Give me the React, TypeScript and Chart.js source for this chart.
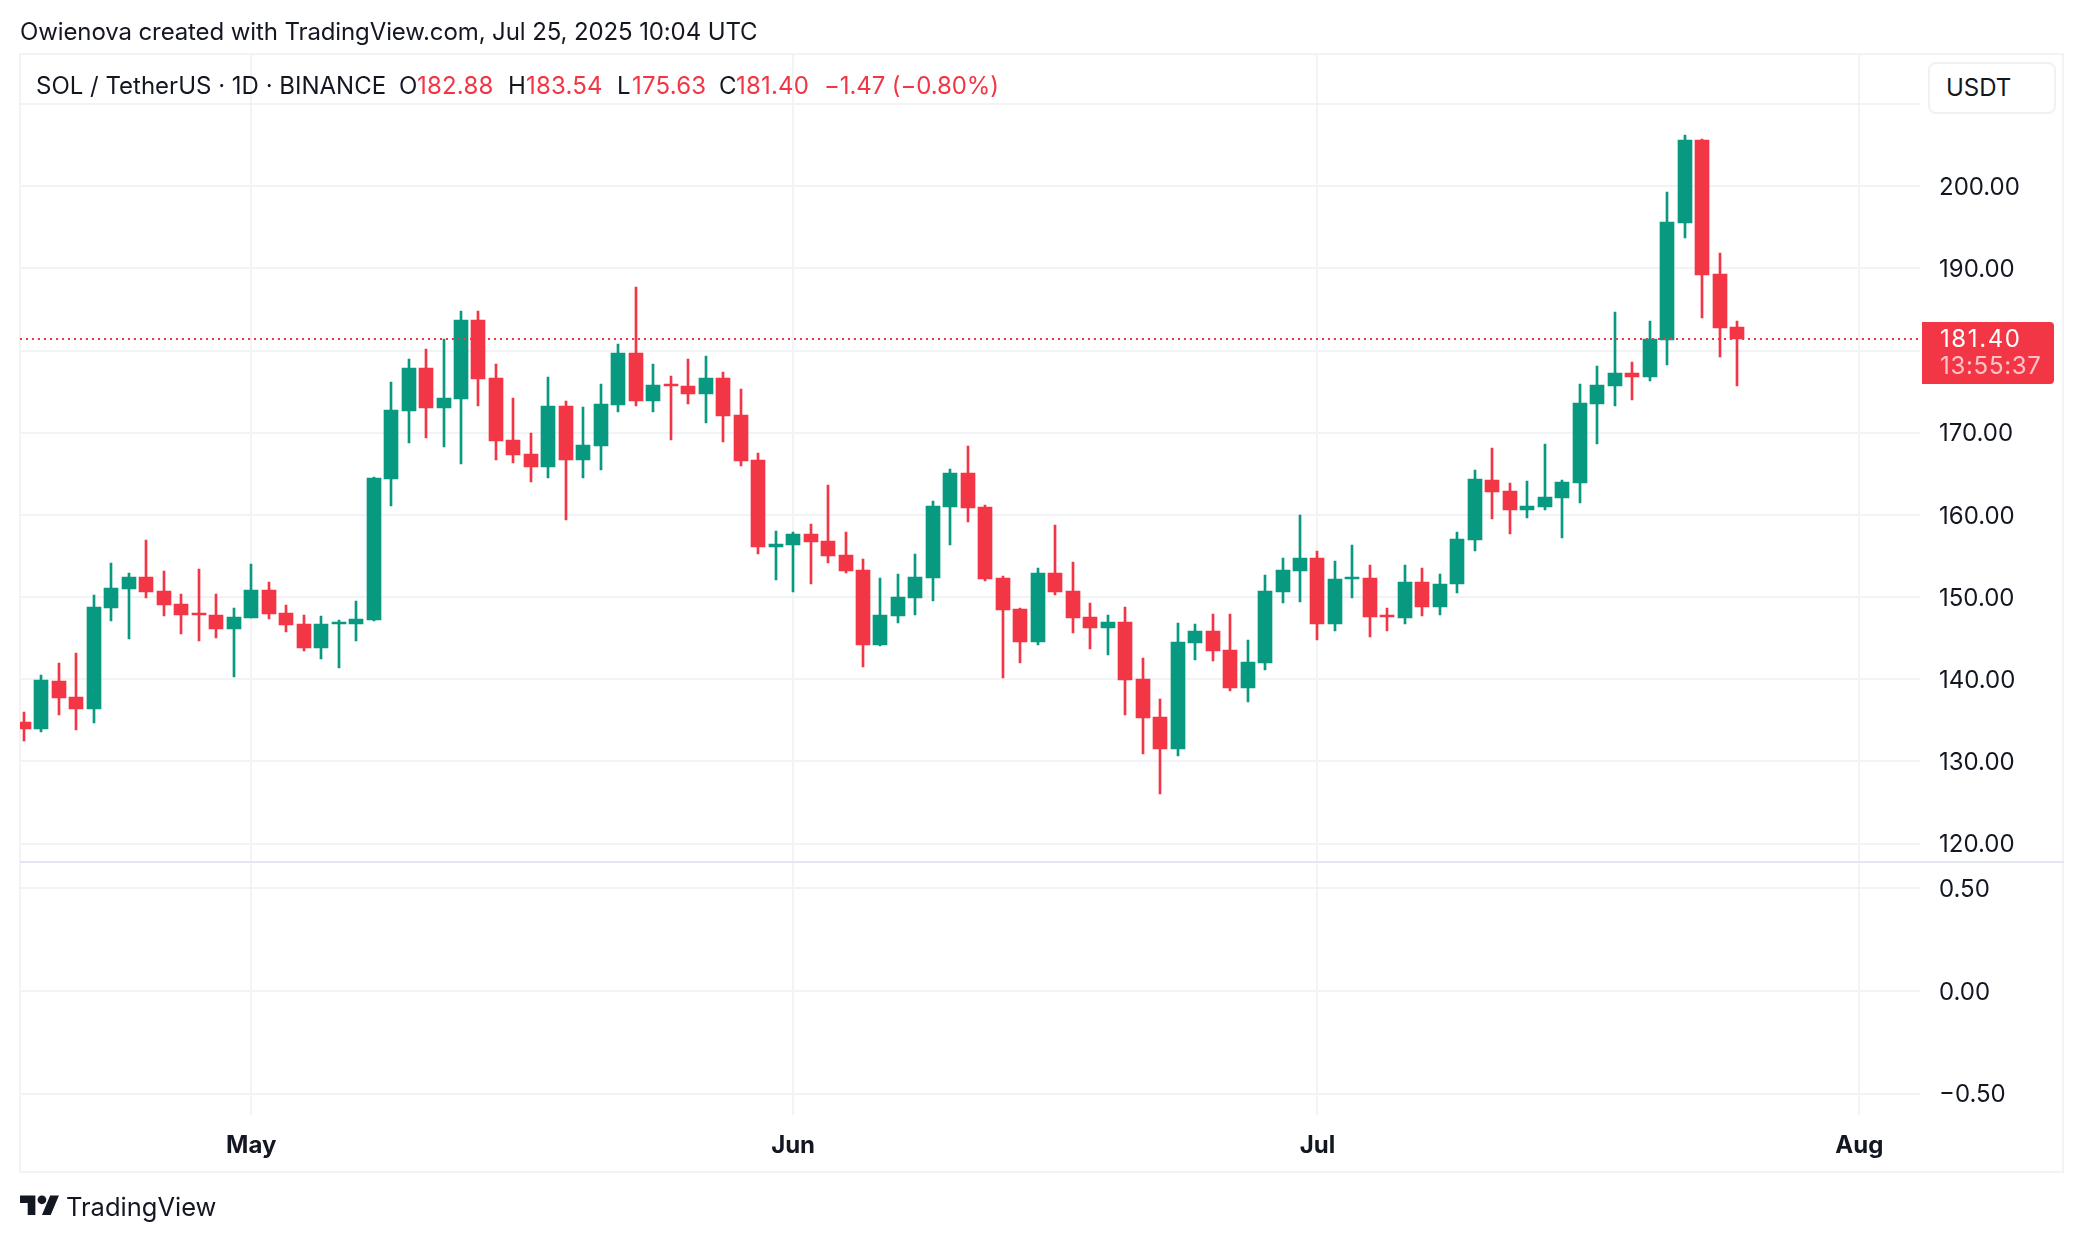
import React, { useEffect, useRef } from 'react';
import { Chart, registerables } from 'chart.js';

Chart.register(...registerables);

// one entry per daily candle, 18 Apr 2025 (index 0) to 25 Jul 2025
const opens = [
  134.8, 133.9, 139.8, 137.8, 136.4, 148.7, 151.0, 152.5, 150.7, 149.1, 148.05, 147.8, 146.1, 147.4, 150.85, 148.05, 146.7, 143.8, 146.7, 146.7,
  147.2, 164.35, 172.65, 177.85, 173.0, 174.1, 183.7, 176.65, 169.1, 167.4, 165.8, 173.25, 166.65, 168.35, 173.35, 179.7, 173.85, 175.9, 175.65, 174.7,
  176.65, 172.15, 166.65, 156.1, 156.3, 157.65, 156.8, 155.1, 153.3, 144.15, 147.7, 149.9, 152.3, 160.95, 165.1, 160.95, 152.3, 148.55, 144.5, 152.9,
  150.75, 147.55, 146.25, 146.95, 140.0, 135.4, 131.5, 144.4, 145.85, 143.55, 138.95, 141.95, 150.6, 153.15, 154.75, 146.7, 152.2, 152.3, 147.8, 147.45,
  151.8, 148.8, 151.6, 156.95, 164.25, 162.9, 160.6, 160.95, 162.05, 163.85, 173.5, 175.65, 177.25, 176.75, 181.25, 195.5, 205.6, 189.3, 182.88,
];
const highs = [
  136.0, 140.5, 142.0, 143.2, 150.2, 154.1, 152.9, 156.9, 153.2, 150.4, 153.4, 150.4, 148.7, 154.0, 151.8, 149.0, 147.8, 147.7, 147.2, 149.5,
  164.6, 176.15, 178.95, 180.15, 181.4, 184.8, 184.8, 178.35, 174.2, 169.95, 176.75, 173.85, 173.1, 175.9, 180.75, 187.7, 178.35, 176.9, 178.95, 179.3,
  177.35, 175.3, 167.5, 158.0, 157.9, 158.9, 163.6, 157.9, 154.6, 152.3, 152.8, 155.25, 161.7, 165.55, 168.35, 161.2, 152.55, 148.65, 153.5, 158.75,
  154.25, 149.25, 147.8, 148.8, 142.6, 137.6, 146.85, 146.7, 147.95, 147.95, 144.75, 152.65, 154.75, 159.95, 155.6, 154.4, 156.3, 153.9, 148.65, 153.9,
  153.5, 152.8, 157.9, 165.45, 168.1, 163.85, 164.1, 168.6, 164.25, 175.9, 178.1, 184.65, 178.6, 183.6, 199.25, 206.2, 205.7, 191.85, 183.54,
];
const lows = [
  132.5, 133.6, 135.6, 133.8, 134.7, 147.1, 144.9, 149.9, 147.7, 145.5, 144.65, 145.0, 140.3, 147.4, 147.3, 145.7, 143.4, 142.5, 141.4, 144.65,
  147.1, 161.05, 168.75, 169.35, 168.25, 166.2, 173.25, 166.65, 166.3, 164.0, 164.45, 159.35, 164.45, 165.45, 172.5, 173.25, 172.5, 169.1, 173.45, 171.15,
  168.85, 165.95, 155.25, 152.05, 150.6, 151.6, 154.15, 152.9, 141.5, 144.05, 146.85, 147.8, 149.5, 156.3, 159.1, 151.95, 140.15, 141.95, 144.15, 150.25,
  145.6, 143.65, 142.95, 135.65, 130.9, 126.05, 130.65, 142.35, 142.2, 138.55, 137.2, 141.1, 149.25, 149.4, 144.75, 145.85, 149.9, 145.15, 145.85, 146.7,
  147.7, 147.8, 150.5, 155.6, 159.5, 157.65, 159.6, 160.6, 157.15, 161.45, 168.6, 173.25, 173.95, 176.3, 178.2, 193.65, 183.95, 179.2, 175.63,
];
const closes = [
  133.9, 139.9, 137.7, 136.4, 148.8, 151.1, 152.5, 150.6, 149.0, 147.8, 147.8, 146.1, 147.6, 150.85, 147.9, 146.6, 143.8, 146.7, 146.95, 147.3,
  164.5, 172.75, 177.85, 173.0, 174.2, 183.7, 176.5, 168.95, 167.25, 165.8, 173.25, 166.65, 168.5, 173.45, 179.7, 173.85, 175.8, 175.65, 174.7, 176.65,
  172.0, 166.55, 156.1, 156.45, 157.65, 156.7, 155.0, 153.15, 144.15, 147.8, 150.0, 152.45, 161.05, 165.1, 160.8, 152.2, 148.4, 144.5, 152.9, 150.6,
  147.45, 146.25, 146.95, 139.9, 135.3, 131.5, 144.5, 145.85, 143.45, 138.95, 142.1, 150.75, 153.3, 154.75, 146.7, 152.2, 152.45, 147.55, 147.55, 151.8,
  148.8, 151.6, 157.05, 164.35, 162.75, 160.6, 161.05, 162.15, 164.0, 173.6, 175.8, 177.25, 176.75, 181.4, 195.6, 205.6, 189.2, 182.75, 181.4,
];

const priceTicks = [120, 130, 140, 150, 160, 170, 180, 190, 200, 210];
const hiddenPriceTicks = [210]; // sits behind the USDT box
const paneTicks = [-0.5, 0, 0.5];
const monthTicks = [13, 44, 74, 105];
const monthLabels = ['May', 'Jun', 'Jul', 'Aug'];

const lastPrice = 181.4;
const countdown = '13:55:37';

const GREEN = '#089981';
const RED = '#f23645';
const GRID = '#f2f3f5';
const INK = '#131722';
const FONT = 'Inter, sans-serif';

const X_MIN = -0.2288;
const X_MAX = 108.47;

// TradingView snaps candles to whole pixels, so do the same to keep wicks crisp
const snapBars = {
  id: 'snapBars',
  afterDatasetsUpdate(chart: any) {
    chart.getSortedVisibleDatasetMetas().forEach((meta: any) => {
      if (meta.type !== 'bar') return;
      meta.data.forEach((el: any) => {
        el.x = Math.round(el.x);
        el.y = Math.round(el.y);
        el.base = Math.round(el.base);
      });
    });
  },
};

const paneDivider = {
  id: 'paneDivider',
  afterDraw(chart: any) {
    const { ctx, scales } = chart;
    const y = Math.round(scales.y.bottom);
    ctx.save();
    ctx.strokeStyle = '#e3e5f3';
    ctx.lineWidth = 2;
    ctx.beginPath();
    ctx.moveTo(scales.x.left, y);
    ctx.lineTo(chart.width - 20, y);
    ctx.stroke();
    ctx.restore();
  },
};

const priceTag = {
  id: 'priceTag',
  afterDraw(chart: any) {
    const { ctx, scales } = chart;
    const y = scales.y.getPixelForValue(lastPrice);
    const left = scales.y.left + 2;
    ctx.save();
    ctx.fillStyle = RED;
    ctx.beginPath();
    ctx.roundRect(left, y - 17, 132, 62, [0, 4, 4, 0]);
    ctx.fill();
    ctx.font = `24px ${FONT}`;
    ctx.textBaseline = 'middle';
    ctx.fillStyle = '#ffffff';
    ctx.letterSpacing = '1.6px';
    ctx.fillText(lastPrice.toFixed(2), left + 18, y + 1);
    ctx.fillStyle = 'rgba(255,255,255,0.7)';
    ctx.letterSpacing = '0.7px';
    ctx.fillText(countdown, left + 18, y + 28);
    ctx.restore();
  },
};

const yAxisBase = {
  position: 'right' as const,
  stack: 'panes',
  afterFit: (scale: any) => {
    scale.width = 144;
  },
  border: { display: false },
  grid: { color: GRID, lineWidth: 2, drawTicks: false },
};

const tickStyle = {
  color: INK,
  padding: 19,
  crossAlign: 'near' as const,
  labelOffset: 1.5,
  font: { family: FONT, size: 24 },
  autoSkip: false,
};

const labelAt = (x: number, y: number, text: string, color: string = INK, size = 24, spacing = 0) => (
  <span
    style={{
      position: 'absolute',
      left: x,
      top: y - 20,
      lineHeight: '40px',
      fontSize: size,
      letterSpacing: spacing,
      color,
      whiteSpace: 'nowrap',
    }}
  >
    {text}
  </span>
);

const App: React.FC = () => {
  const chartRef = useRef<HTMLCanvasElement | null>(null);

  useEffect(() => {
    const ctx = chartRef.current?.getContext('2d');
    if (!ctx) return;

    const days = opens.map((_, i) => i);
    const candleColors = days.map((i) => (closes[i] >= opens[i] ? GREEN : RED));

    const chart = new Chart(ctx, {
      type: 'bar',
      plugins: [snapBars, paneDivider, priceTag],
      data: {
        datasets: [
          {
            type: 'line',
            label: 'Last price',
            data: [
              { x: X_MIN, y: lastPrice },
              { x: X_MAX, y: lastPrice },
            ],
            borderColor: RED,
            borderWidth: 2,
            borderDash: [2, 4],
            pointRadius: 0,
            order: 0,
            yAxisID: 'y',
          },
          {
            label: 'Body',
            data: days.map((i) => ({ x: i, y: [opens[i], closes[i]] })),
            backgroundColor: candleColors,
            barThickness: 14,
            grouped: false,
            order: 1,
            yAxisID: 'y',
          },
          {
            label: 'Wick',
            data: days.map((i) => ({ x: i, y: [lows[i], highs[i]] })),
            backgroundColor: candleColors,
            barThickness: 2,
            grouped: false,
            order: 2,
            yAxisID: 'y',
          },
        ] as any,
      },
      options: {
        animation: false,
        responsive: false,
        devicePixelRatio: 1,
        layout: {
          autoPadding: false,
          padding: { left: 20, top: 53.5, right: 20, bottom: 70 },
        },
        plugins: {
          legend: { display: false },
          title: { display: false },
          tooltip: { enabled: false },
        },
        scales: {
          x: {
            type: 'linear',
            offset: false,
            min: X_MIN,
            max: X_MAX,
            afterBuildTicks: (scale: any) => {
              scale.ticks = monthTicks.map((value) => ({ value }));
            },
            afterFit: (scale: any) => {
              scale.height = 57;
            },
            border: { display: false },
            grid: { color: GRID, lineWidth: 2, drawTicks: false, offset: false },
            ticks: {
              color: INK,
              padding: 16,
              maxRotation: 0,
              autoSkip: false,
              font: { family: FONT, size: 24, weight: 'bold' },
              callback: (value: any) => monthLabels[monthTicks.indexOf(value)],
            },
          },
          y: {
            ...yAxisBase,
            stackWeight: 808.5,
            min: 117.773,
            max: 216.133,
            afterBuildTicks: (scale: any) => {
              scale.ticks = priceTicks.map((value) => ({ value }));
            },
            ticks: {
              ...tickStyle,
              callback: (value: any) => (hiddenPriceTicks.includes(value) ? '' : value.toFixed(2)),
            },
          },
          pane: {
            ...yAxisBase,
            stackWeight: 253,
            min: -0.6036,
            max: 0.626,
            afterBuildTicks: (scale: any) => {
              scale.ticks = paneTicks.map((value) => ({ value }));
            },
            ticks: {
              ...tickStyle,
              callback: (value: any) => value.toFixed(2).replace('-', '\u2212'),
            },
          },
        },
      } as any,
    });

    return () => {
      chart.destroy();
    };
  }, []);

  return (
    <div
      style={{
        position: 'absolute',
        left: 0,
        top: 0,
        width: 2084,
        height: 1242,
        background: '#ffffff',
        fontFamily: FONT,
        overflow: 'hidden',
      }}
    >
      <div
        style={{
          position: 'absolute',
          left: 19,
          top: 53,
          width: 2045,
          height: 1120,
          boxSizing: 'border-box',
          border: `2px solid ${GRID}`,
        }}
      />
      <canvas ref={chartRef} width={2084} height={1242} style={{ position: 'absolute', left: 0, top: 0 }} />

      {labelAt(20, 32, 'Owienova created with TradingView.com, Jul 25, 2025 10:04 UTC', INK, 24, -0.11)}

      {labelAt(36, 86, 'SOL / TetherUS · 1D · BINANCE')}
      {labelAt(399, 86, 'O')}
      {labelAt(417, 86, '182.88', RED, 24, 0.2)}
      {labelAt(508, 86, 'H')}
      {labelAt(526, 86, '183.54', RED, 24, 0.2)}
      {labelAt(617, 86, 'L')}
      {labelAt(632, 86, '175.63', RED, 24, 0.2)}
      {labelAt(719, 86, 'C')}
      {labelAt(736, 86, '181.40', RED, 24, 0.2)}
      {labelAt(824, 86, '\u22121.47 (\u22120.80%)', RED, 24, -0.1)}

      <div
        style={{
          position: 'absolute',
          left: 1928,
          top: 62,
          width: 128,
          height: 52,
          boxSizing: 'border-box',
          border: '2px solid #f0f1f3',
          borderRadius: 8,
          background: '#ffffff',
        }}
      />
      {labelAt(1946, 88, 'USDT')}

      <svg
        viewBox="0 0 36 28"
        width={39.5}
        height={30.7}
        style={{ position: 'absolute', left: 20, top: 1191 }}
      >
        <path d="M14 22H7V11H0V4h14v18zM28 22h-8l7.5-18h8L28 22z" fill={INK} />
        <circle cx="20" cy="8" r="4" fill={INK} />
      </svg>
      {labelAt(66, 1207, 'TradingView', INK, 25.5)}
    </div>
  );
};

export default App;
